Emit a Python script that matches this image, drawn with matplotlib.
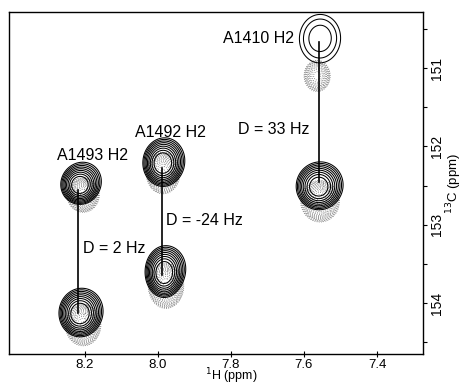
import numpy as np
import matplotlib
matplotlib.use("Agg")
import matplotlib.pyplot as plt

plt.rcParams['font.family'] = ['Liberation Sans', 'DejaVu Sans']

# peaks of the black spectrum: 1H (ppm), 13C (ppm), widths, heights
black_h = [8.215, 8.215, 7.988, 7.984, 7.558, 7.561]
black_c = [152.50, 154.14, 152.22, 153.62, 150.64, 152.52]
black_wh = [0.021, 0.023, 0.022, 0.021, 0.045, 0.025]
black_wc = [0.10, 0.12, 0.12, 0.13, 0.25, 0.12]
black_amp = [1.0, 1.0, 1.0, 1.0, 0.13, 0.9]

# broad shoulders that skew the black peaks
shoulder_h = [8.203, 8.203, 7.976, 7.972, 7.548, 7.550]
shoulder_c = [152.42, 154.08, 152.16, 153.54, 150.56, 152.47]
shoulder_wh = [0.030, 0.032, 0.030, 0.030, 0.040, 0.034]
shoulder_wc = [0.14, 0.16, 0.16, 0.16, 0.20, 0.16]
shoulder_amp = [0.20, 0.20, 0.20, 0.20, 0.03, 0.20]

# peaks of the grey (overlaid) spectrum
grey_h = [8.205, 8.205, 7.986, 7.978, 7.564, 7.556]
grey_c = [152.62, 154.28, 152.34, 153.78, 151.10, 152.70]
grey_wh = [0.020, 0.022, 0.021, 0.022, 0.018, 0.024]
grey_wc = [0.10, 0.12, 0.12, 0.13, 0.10, 0.12]
grey_amp = [0.8, 0.8, 0.8, 0.8, 0.5, 0.8]

# connecting lines and labels
line_h = [8.219, 7.989, 7.559]
line_top = [152.56, 152.28, 150.67]
line_bot = [154.13, 153.64, 152.45]

names = ["A1493 H2", "A1492 H2", "A1410 H2"]
name_h = [8.277, 8.063, 7.822]
name_c = [152.12, 151.82, 150.62]

couplings = ["D = 2 Hz", "D = -24 Hz", "D = 33 Hz"]
coup_h = [8.205, 7.978, 7.781]
coup_c = [153.30, 152.95, 151.79]

x_ticks = [8.2, 8.0, 7.8, 7.6, 7.4]
y_ticks = [151, 152, 153, 154]


def spectrum(h, c, wh, wc, amp, X, Y):
    Z = np.zeros_like(X)
    for i in range(len(h)):
        Z += amp[i] * np.exp(-0.5 * ((X - h[i]) / wh[i]) ** 2
                             - 0.5 * ((Y - c[i]) / wc[i]) ** 2)
    return Z


xs = np.linspace(7.27, 8.41, 600)
ys = np.linspace(150.28, 154.66, 600)
X, Y = np.meshgrid(xs, ys)
Zb = (spectrum(black_h, black_c, black_wh, black_wc, black_amp, X, Y)
      + spectrum(shoulder_h, shoulder_c, shoulder_wh, shoulder_wc,
                 shoulder_amp, X, Y))
Zg = spectrum(grey_h, grey_c, grey_wh, grey_wc, grey_amp, X, Y)

levels = 0.07 * 1.33 ** np.arange(9)

fig = plt.figure(figsize=(4.65, 3.88), dpi=100)
ax = fig.add_axes([0.0194, 0.0876, 0.8903, 0.8814])

ax.contour(X, Y, Zg, levels=0.07 * 1.2 ** np.arange(14), colors='0.45',
           linewidths=0.6, linestyles=':')
ax.contour(X, Y, Zb, levels=levels, colors='k', linewidths=0.75)

for i in range(3):
    ax.plot([line_h[i], line_h[i]], [line_top[i], line_bot[i]],
            color='k', lw=1.2)
    ax.text(name_h[i], name_c[i], names[i], fontsize=11.5,
            ha='left', va='center')
    ax.text(coup_h[i], coup_c[i], couplings[i], fontsize=11.5,
            ha='left', va='center')

ax.set_xlim(8.408, 7.274)
ax.set_ylim(154.65, 150.285)
ax.set_xticks(x_ticks)
ax.set_yticks(y_ticks)
ax.set_yticks([150.5, 151.5, 152.5, 153.5, 154.5], minor=True)
ax.yaxis.tick_right()
ax.yaxis.set_label_position('right')
for lab in ax.get_yticklabels():
    lab.set_rotation(90)
    lab.set_va('center')
ax.tick_params(axis='x', direction='inout', length=4, width=0.8,
               labelsize=9.5, pad=1.5)
ax.tick_params(axis='y', which='both', direction='out', length=3,
               width=0.8, labelsize=10, pad=2)
# x label placed just above the bottom edge of the figure
fig.text(0.497, 0.004, r'$^{1}$H (ppm)', fontsize=9, ha='center',
         va='bottom')
ax.set_ylabel(r'$^{13}$C (ppm)', fontsize=9.5, labelpad=0, rotation=90)
for s in ax.spines.values():
    s.set_linewidth(1.0)

plt.savefig("out.png", dpi=100)
